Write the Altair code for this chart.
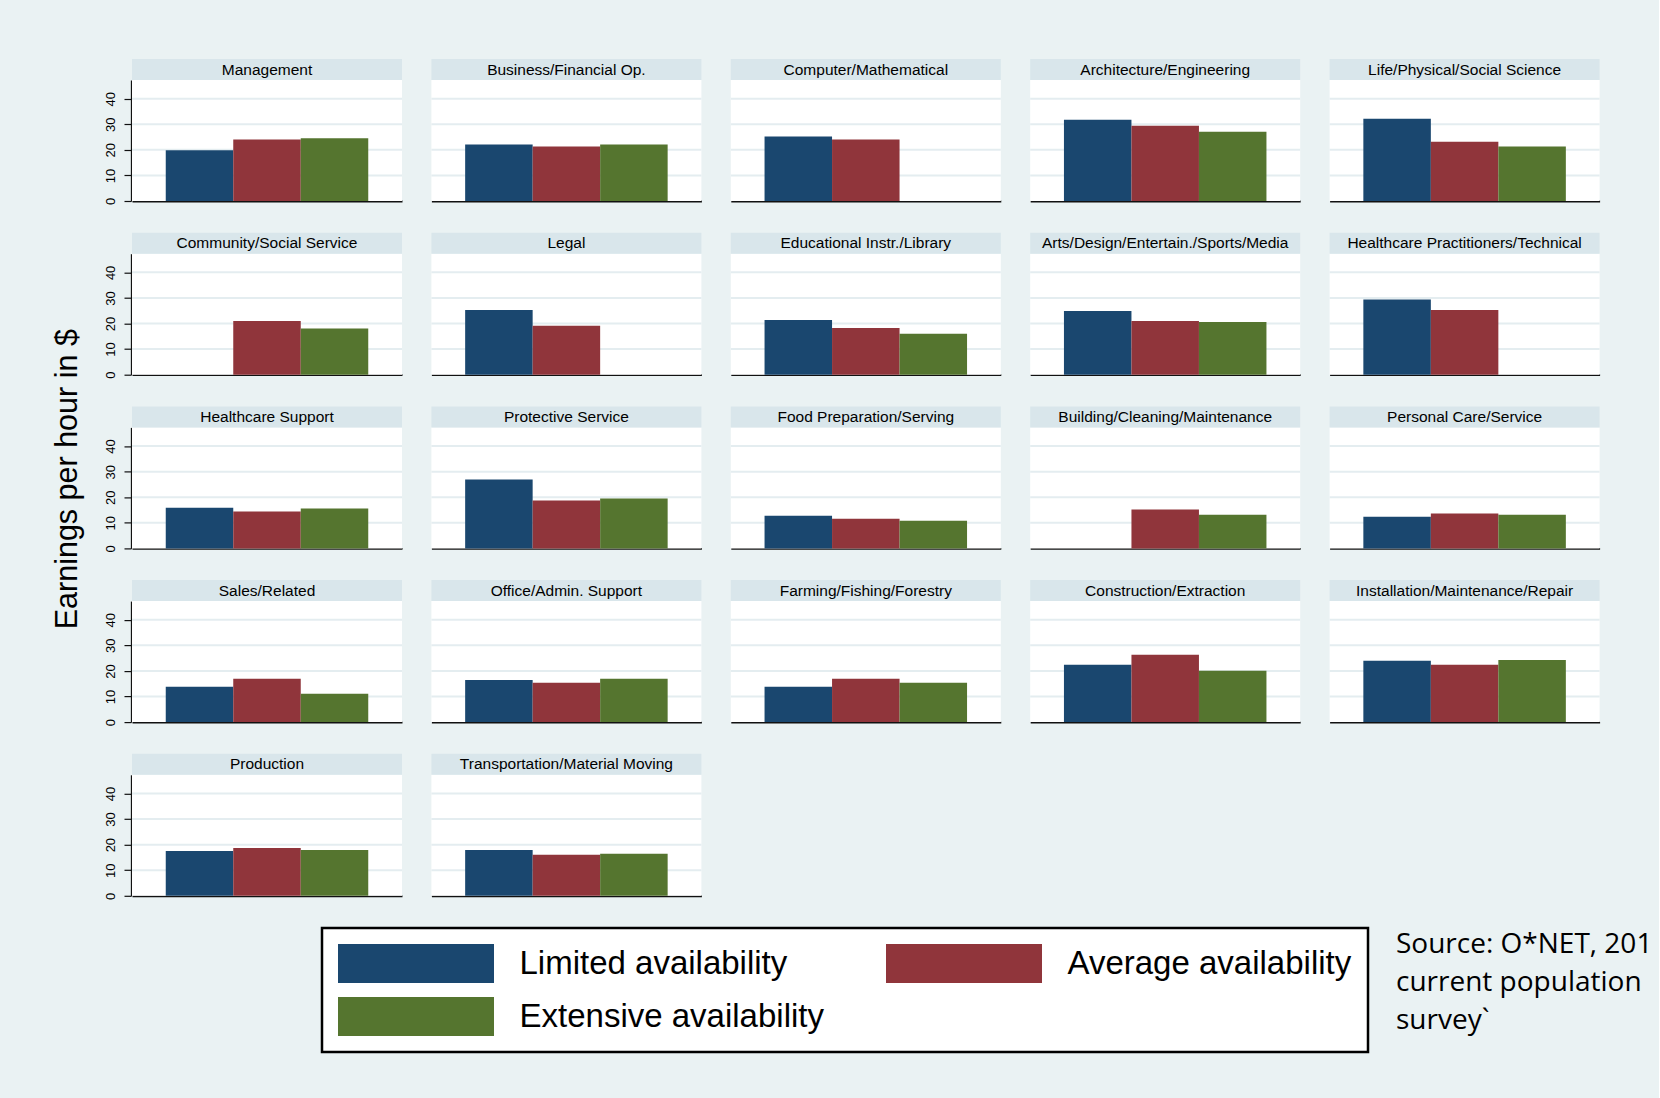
import altair as alt
import pandas as pd

# Hourly earnings by occupation group and availability level
occupations = [
    "Management", "Business/Financial Op.", "Computer/Mathematical",
    "Architecture/Engineering", "Life/Physical/Social Science",
    "Community/Social Service", "Legal", "Educational Instr./Library",
    "Arts/Design/Entertain./Sports/Media", "Healthcare Practitioners/Technical",
    "Healthcare Support", "Protective Service", "Food Preparation/Serving",
    "Building/Cleaning/Maintenance", "Personal Care/Service",
    "Sales/Related", "Office/Admin. Support", "Farming/Fishing/Forestry",
    "Construction/Extraction", "Installation/Maintenance/Repair",
    "Production", "Transportation/Material Moving",
]
levels = ["Limited availability", "Average availability", "Extensive availability"]
limited = [19.8, 22.1, 25.2, 31.8, 32.2, None, 25.3, 21.4, 24.9, 29.4, 15.9,
           26.9, 12.8, None, 12.4, 13.8, 16.5, 13.8, 22.4, 24.0, 17.5, 17.9]
average = [24.0, 21.3, 24.0, 29.4, 23.2, 21.0, 19.1, 18.3, 21.0, 25.3, 14.4,
           18.7, 11.6, 15.2, 13.6, 16.9, 15.4, 16.9, 26.3, 22.4, 18.7, 16.0]
extensive = [24.5, 22.1, None, 27.1, 21.3, 18.1, None, 16.0, 20.6, None, 15.6,
             19.5, 10.8, 13.2, 13.2, 11.1, 16.9, 15.4, 20.1, 24.3, 17.9, 16.4]
y_ticks = [0, 10, 20, 30, 40]
source_note = "Source: O*NET, 2017\ncurrent population\nsurvey`"

colors = ["#1A476F", "#90353B", "#55752F"]
BG = "#EAF2F3"
STRIP_FILL = "#D9E6EB"
GRID = "#E4EDF0"
FONT = "Liberation Sans"
NCOL = 5
Y_TOP = 47.3

rows = []
for i, occ in enumerate(occupations):
    for lvl, series in zip(levels, (limited, average, extensive)):
        rows.append({"occupation": occ, "r": i // NCOL, "c": i % NCOL,
                     "level": lvl, "wage": series[i]})
df = pd.DataFrame(rows)

W, H, STRIP = 270, 121, 21

# one record per panel for the panel furniture
base = alt.Chart().transform_filter(alt.datum.level == levels[0])
y_scale = alt.Scale(domain=[0, Y_TOP], nice=False, zero=True)
y_axis = alt.Axis(title=None, values=y_ticks, grid=False,
                  domainColor="#111111", domainWidth=1.3,
                  tickColor="#111111", tickSize=7, tickWidth=1.2,
                  labelAngle=270, labelAlign="center",
                  labelBaseline="alphabetic", labelFont=FONT,
                  labelFontSize=13, labelPadding=9.5, labelColor="black")

plot_bg = base.mark_rect(color="white").encode(
    x=alt.value(0), x2=alt.value(W), y=alt.value(0), y2=alt.value(H)
)

grid_rules = base.transform_calculate(
    gv="[" + ",".join(str(v) for v in y_ticks[1:]) + "]"
).transform_flatten(["gv"]).mark_rule(color=GRID, strokeWidth=2).encode(
    y=alt.Y("gv:Q", scale=y_scale, axis=y_axis),
    x=alt.value(0), x2=alt.value(W),
)

# Light header strip above each panel, with the occupation name
strip_bg = base.mark_rect(color=STRIP_FILL).encode(
    x=alt.value(0), x2=alt.value(W), y=alt.value(-STRIP), y2=alt.value(0)
)

strip_txt = base.mark_text(font=FONT, fontSize=15.5, color="black").encode(
    text="occupation:N", y=alt.value(-STRIP / 2)
)

# Wide legend swatches: a 4:1 bar path drawn at a 39 px "diameter"
SW = 39
legend = alt.Legend(
    title=None, orient="none", legendX=190, legendY=848, columns=2,
    direction="horizontal",
    symbolType="M-4,-1H4V1H-4Z", symbolSize=SW * SW, symbolStrokeWidth=0,
    symbolOffset=1.5 * SW, symbolOpacity=1,
    labelFont=FONT, labelFontSize=33, labelColor="black",
    labelOffset=84, labelLimit=0,
    columnPadding=62, rowPadding=14,
    fillColor="white", strokeColor="black", padding=16, cornerRadius=0,
)

bars = alt.Chart().mark_bar().encode(
    x=alt.X("level:N", sort=levels,
            scale=alt.Scale(domain=levels, paddingInner=0, paddingOuter=0.5),
            axis=alt.Axis(title=None, labels=False, ticks=False, grid=False,
                          domain=True, domainColor="#111111", domainWidth=1.8)),
    y=alt.Y("wage:Q", scale=y_scale, axis=y_axis),
    color=alt.Color("level:N", scale=alt.Scale(domain=levels, range=colors),
                    legend=legend),
)

panel = alt.layer(plot_bg, grid_rules, strip_bg, strip_txt, bars,
                  data=df).properties(width=W, height=H)

grid = panel.facet(
    row=alt.Row("r:O", title=None, header=alt.Header(labels=False)),
    column=alt.Column("c:O", title=None, header=alt.Header(labels=False)),
    spacing={"row": 31.7, "column": 27.4},
).properties(
    title=alt.TitleParams("Earnings per hour in $", orient="left",
                          anchor="middle", font=FONT, fontSize=30.5,
                          fontWeight="normal", color="black", offset=21)
).resolve_axis(x="independent")

# Source note; the first line runs off the right edge and is cut there
source = alt.Chart(pd.DataFrame({"t": [source_note]})).mark_text(
    align="left", baseline="middle", lineBreak="\n", lineHeight=38,
    font="Open Sans", fontSize=28, color="black", limit=264,
    ellipsis="\u200b"
).encode(
    text="t:N", x=alt.value(1264), y=alt.value(24)
).properties(width=1526, height=181,
             view=alt.ViewBackground(fill="transparent", stroke="transparent"))

chart = alt.vconcat(grid, source, spacing=20).properties(
    background=BG,
    padding={"left": 52, "top": 59, "right": 0, "bottom": 0},
).configure(font=FONT).configure_view(
    stroke=None
).configure_legend(strokeWidth=2.5)

chart.save("out.html", embed_options={"renderer": "svg", "actions": False})
